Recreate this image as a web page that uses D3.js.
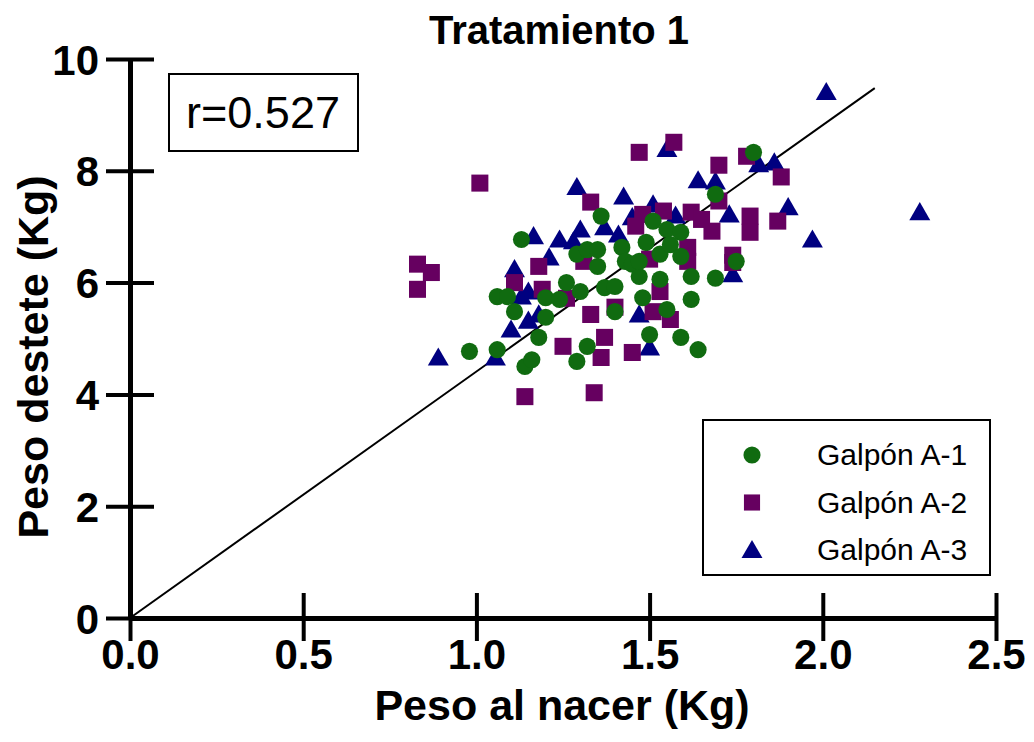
<!DOCTYPE html>
<html>
<head>
<meta charset="utf-8">
<script src="https://cdn.jsdelivr.net/npm/d3@7"></script>
<style>
  body { margin: 0; background: #fff; }
  text { font-family: "Liberation Sans", Arial, sans-serif; }
</style>
</head>
<body>
<div id="chart"></div>
<script>
// Galpón A-1 (circles)
var a1X = [0.98, 1.06, 1.06, 1.09, 1.11, 1.14, 1.16, 1.18, 1.20, 1.20, 1.24, 1.26, 1.29, 1.30, 1.32,
  1.13, 1.29, 1.32, 1.35, 1.35, 1.37, 1.36, 1.42, 1.43, 1.40, 1.40, 1.45, 1.47, 1.48, 1.49,
  1.51, 1.53, 1.53, 1.55, 1.59, 1.56, 1.59, 1.55, 1.50, 1.59, 1.64, 1.62, 1.62, 1.69, 1.75,
  1.69, 1.80, 1.47];
var a1Y = [4.77, 4.80, 5.75, 5.75, 5.48, 4.50, 4.62, 5.02, 5.38, 5.73, 5.70, 6.00, 4.59, 5.84, 4.86,
  6.77, 6.51, 6.59, 6.59, 6.29, 5.91, 7.19, 6.63, 6.38, 5.48, 5.93, 6.33, 6.11, 5.73, 6.72,
  7.10, 6.51, 6.06, 6.95, 6.90, 6.68, 6.47, 5.52, 5.07, 5.02, 4.80, 5.70, 6.11, 6.08, 6.38,
  7.58, 8.33, 6.38];

// Galpón A-2 (squares)
var a2X = [0.83, 0.87, 0.83, 1.01, 1.33, 1.18, 1.11, 1.19, 1.26, 1.14, 1.25, 1.34, 1.33, 1.37,
  1.36, 1.45, 1.40, 1.51, 1.56, 1.53, 1.61, 1.74, 1.47, 1.57, 1.78, 1.70, 1.88, 1.70, 1.79,
  1.79, 1.87, 1.48, 1.54, 1.62, 1.65, 1.68, 1.74, 1.46, 1.31, 1.61, 1.50];
var a2Y = [6.33, 6.18, 5.88, 7.78, 7.44, 6.29, 6.00, 5.88, 5.72, 3.96, 4.86, 4.03, 5.43, 5.02,
  4.66, 4.75, 5.56, 5.48, 5.34, 5.84, 6.38, 6.36, 8.33, 8.51, 8.26, 8.10, 7.89, 7.46, 7.19,
  6.90, 7.10, 7.22, 7.28, 7.26, 7.13, 6.92, 6.49, 7.01, 6.38, 6.63, 6.42];

// Galpón A-3 (triangles)
var a3X = [0.89, 1.055, 1.10, 1.15, 1.18, 1.15, 1.13, 1.11, 1.21, 1.165, 1.24, 1.30, 1.29,
  1.55, 1.815, 1.86, 1.64, 1.69, 1.425, 1.90, 1.73, 1.51, 1.575, 1.37, 1.45, 1.41, 2.01,
  2.28, 1.97, 1.74, 1.47, 1.50, 1.28];
var a3Y = [4.66, 4.66, 5.16, 5.32, 5.43, 5.84, 5.75, 6.24, 6.45, 6.83, 6.77, 6.95, 7.71,
  8.39, 8.12, 8.15, 7.83, 7.81, 7.54, 7.35, 7.22, 7.40, 7.20, 6.99, 7.17, 6.86, 9.41,
  7.26, 6.77, 6.15, 5.43, 4.84, 6.74];

// regression line ends
var fitX = [0, 2.15];
var fitY = [0, 9.48];

var xTicks = [0, 0.5, 1.0, 1.5, 2.0, 2.5];
var yTicks = [0, 2, 4, 6, 8, 10];
var seriesNames = ["Galpón A-1", "Galpón A-2", "Galpón A-3"];
var colors = ["#106b10", "#660060", "#000080"];

var width = 1034, height = 742;

var svg = d3.select("#chart")
  .append("svg")
  .attr("width", width)
  .attr("height", height);

var x = d3.scaleLinear().domain([0, 2.5]).range([130, 996]);
var y = d3.scaleLinear().domain([0, 10]).range([618, 59]);

// title
svg.append("text")
  .attr("x", 559)
  .attr("y", 44)
  .attr("text-anchor", "middle")
  .attr("font-size", "40px")
  .attr("font-weight", "bold")
  .text("Tratamiento 1");

// regression line
svg.append("line")
  .attr("x1", x(fitX[0]))
  .attr("y1", y(fitY[0]))
  .attr("x2", x(fitX[1]))
  .attr("y2", y(fitY[1]))
  .attr("stroke", "#000")
  .attr("stroke-width", 2);

// points
var sym = [d3.symbolCircle, d3.symbolSquare, d3.symbolTriangle];
var sizes = [230, 290, 190];

function drawSeries(xs, ys, i) {
  var pts = xs.map(function (d, k) { return [d, ys[k]]; });
  svg.append("g").selectAll("path")
    .data(pts)
    .enter()
    .append("path")
    .attr("d", d3.symbol().type(sym[i]).size(sizes[i]))
    .attr("transform", function (d) {
      return "translate(" + x(d[0]) + "," + (y(d[1]) + (i == 2 ? 2 : 0)) + ")";
    })
    .attr("fill", colors[i]);
}

drawSeries(a3X, a3Y, 2);
drawSeries(a2X, a2Y, 1);
drawSeries(a1X, a1Y, 0);

// X-Axis
var xAxis = svg.append("g")
  .attr("transform", "translate(0," + y(0) + ")")
  .call(d3.axisBottom(x).tickValues(xTicks).tickSizeOuter(0)
    .tickFormat(d3.format(".1f")));
xAxis.select(".domain").attr("stroke-width", 5).attr("stroke", "#000");
xAxis.selectAll(".tick line")
  .attr("y1", -25).attr("y2", 23)
  .attr("stroke-width", 4).attr("stroke", "#000");
xAxis.selectAll(".tick text")
  .attr("y", 51).attr("dy", 0)
  .attr("font-size", "42px")
  .attr("font-weight", "bold")
  .attr("font-family", "Liberation Sans")
  .attr("fill", "#000");

// Y-Axis
var yAxis = svg.append("g")
  .attr("transform", "translate(" + x(0) + ",0)")
  .call(d3.axisLeft(y).tickValues(yTicks).tickSizeOuter(0));
yAxis.select(".domain").attr("stroke-width", 5).attr("stroke", "#000");
yAxis.selectAll(".tick line")
  .attr("x1", -24).attr("x2", 24)
  .attr("stroke-width", 4).attr("stroke", "#000");
yAxis.selectAll(".tick text")
  .attr("x", -31).attr("dy", "0.36em")
  .attr("font-size", "42px")
  .attr("font-weight", "bold")
  .attr("font-family", "Liberation Sans")
  .attr("fill", "#000");

// axis labels
svg.append("text")
  .attr("x", 562)
  .attr("y", 720)
  .attr("text-anchor", "middle")
  .attr("font-size", "43px")
  .attr("font-weight", "bold")
  .text("Peso al nacer (Kg)");

svg.append("text")
  .attr("transform", "translate(48,357) rotate(-90)")
  .attr("text-anchor", "middle")
  .attr("font-size", "43px")
  .attr("font-weight", "bold")
  .text("Peso destete (Kg)");

// r box
svg.append("rect")
  .attr("x", 169).attr("y", 74)
  .attr("width", 189).attr("height", 77)
  .attr("fill", "#fff")
  .attr("stroke", "#000")
  .attr("stroke-width", 2);
svg.append("text")
  .attr("x", 263).attr("y", 128)
  .attr("text-anchor", "middle")
  .attr("font-size", "45px")
  .text("r=0.527");

// legend
var legend = svg.append("g");
legend.append("rect")
  .attr("x", 703).attr("y", 420)
  .attr("width", 287).attr("height", 155)
  .attr("fill", "#fff")
  .attr("stroke", "#000")
  .attr("stroke-width", 2);

var rows = legend.selectAll(".row")
  .data(seriesNames)
  .enter()
  .append("g")
  .attr("class", "row")
  .attr("transform", function (d, i) {
    return "translate(0," + (455 + i * 47.5) + ")";
  });

rows.append("path")
  .attr("d", function (d, i) {
    return d3.symbol().type(sym[i]).size([230, 260, 190][i])();
  })
  .attr("transform", function (d, i) { return "translate(752," + (i == 2 ? 2 : 0) + ")"; })
  .attr("fill", function (d, i) { return colors[i]; });

rows.append("text")
  .attr("x", 817)
  .attr("y", 10)
  .attr("font-size", "30px")
  .text(function (d) { return d; });
</script>
</body>
</html>
